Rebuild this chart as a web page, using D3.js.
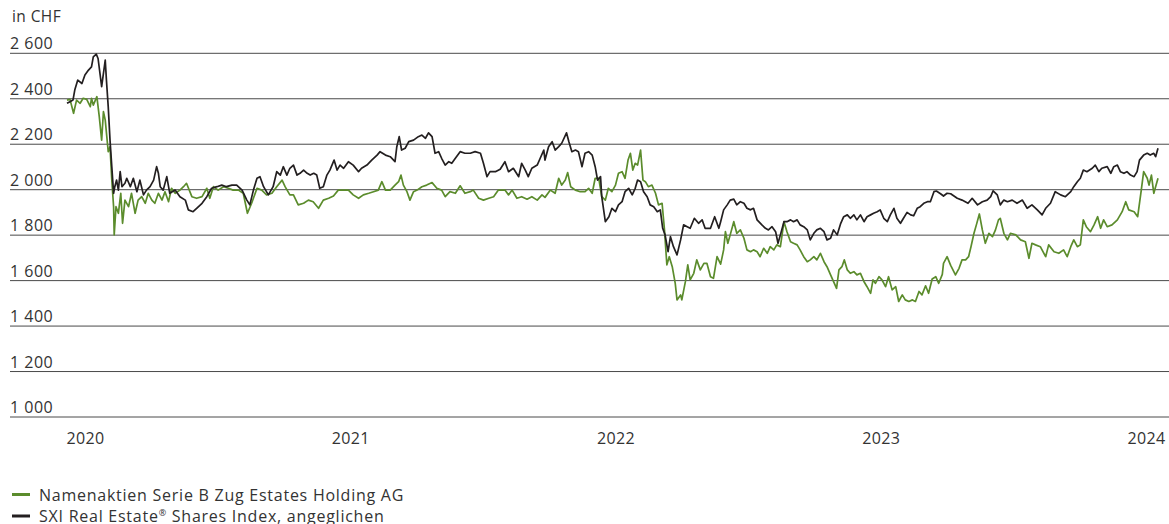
<!DOCTYPE html>
<html><head><meta charset="utf-8">
<script src="https://cdn.jsdelivr.net/npm/d3@7"></script>
<style>
body{margin:0;background:#fff}
svg{display:block}
text{font-family:"Open Sans",sans-serif;fill:#333}
</style>
</head><body>
<svg id="chart" width="1169" height="524"></svg>
<script>
// ---- data ----
const unitLabel = "in CHF";
const yearLabels = ["2020", "2021", "2022", "2023", "2024"];
const yTickValues = [1000, 1200, 1400, 1600, 1800, 2000, 2200, 2400, 2600];
const yTickLabels = ["1 000", "1 200", "1 400", "1 600", "1 800", "2 000", "2 200", "2 400", "2 600"];
const seriesNames = ["Namenaktien Serie B Zug Estates Holding AG", "SXI Real Estate", " Shares Index, angeglichen"];
const periodStart = "2020-01-01";
const periodEnd = "2024-12-31";
// [days since periodStart, value in CHF]
const zugSeries = [[0,2392],[5,2395],[11,2334],[16,2392],[22,2378],[27,2400],[33,2395],[39,2363],[41,2400],[44,2370],[50,2407],[54,2319],[58,2216],[61,2341],[64,2304],[69,2165],[72,2187],[75,2040],[78,1923],[79,1799],[82,1923],[86,1894],[90,1982],[93,1850],[97,1952],[103,1923],[108,1982],[114,1894],[119,1952],[125,1967],[131,1938],[136,1982],[142,1952],[147,1938],[153,1982],[159,1952],[164,1989],[170,1945],[175,2004],[181,1982],[189,1996],[195,2011],[200,2026],[209,1967],[217,1960],[226,1967],[234,2004],[239,1960],[245,2011],[253,1996],[262,2011],[270,2004],[278,1996],[287,1996],[295,1982],[302,1894],[309,1938],[318,2004],[326,1996],[334,1975],[343,1982],[351,2011],[360,2040],[365,2011],[373,1975],[379,1975],[387,1931],[396,1938],[404,1952],[412,1945],[421,1916],[429,1952],[438,1960],[446,1970],[454,1996],[463,1996],[471,1996],[479,1975],[488,1960],[496,1975],[505,1982],[513,1989],[521,1996],[527,2033],[533,1996],[541,1996],[549,2018],[555,2033],[559,2062],[563,2018],[569,1989],[574,1952],[580,1989],[586,1996],[594,2011],[602,2018],[611,2029],[619,2004],[627,1996],[633,1967],[641,1989],[650,1982],[658,2015],[666,1982],[675,1989],[680,1996],[689,1960],[697,1952],[706,1960],[714,1967],[722,1996],[733,1996],[739,1975],[745,1996],[753,1960],[761,1967],[770,1956],[778,1967],[787,1952],[795,1975],[800,1964],[809,1996],[817,1982],[823,2048],[828,2018],[834,2040],[838,2073],[843,2011],[851,1996],[859,1989],[867,1989],[873,2004],[879,1982],[884,2048],[890,2048],[895,1967],[901,1952],[906,2004],[912,1989],[918,2018],[923,2070],[929,2077],[934,2048],[939,2128],[943,2158],[947,2084],[951,2114],[955,2106],[960,2172],[964,2040],[968,2033],[973,2011],[979,2018],[985,1982],[990,1931],[996,1938],[1000,1821],[1004,1667],[1008,1703],[1013,1659],[1018,1586],[1021,1513],[1027,1535],[1029,1513],[1035,1593],[1039,1667],[1043,1601],[1049,1630],[1054,1689],[1060,1645],[1066,1674],[1071,1674],[1077,1615],[1082,1608],[1088,1703],[1094,1670],[1099,1733],[1102,1813],[1106,1762],[1110,1799],[1116,1857],[1121,1806],[1127,1821],[1133,1784],[1138,1733],[1144,1725],[1149,1733],[1155,1725],[1160,1703],[1166,1740],[1172,1718],[1177,1747],[1183,1733],[1188,1755],[1194,1747],[1200,1857],[1205,1813],[1211,1769],[1216,1762],[1222,1755],[1227,1733],[1233,1703],[1239,1681],[1244,1689],[1250,1703],[1255,1689],[1261,1718],[1267,1681],[1272,1659],[1278,1623],[1283,1593],[1288,1564],[1292,1645],[1297,1659],[1301,1689],[1306,1645],[1311,1630],[1317,1637],[1322,1623],[1328,1630],[1334,1593],[1339,1571],[1345,1542],[1349,1601],[1353,1586],[1359,1615],[1364,1601],[1370,1571],[1375,1615],[1381,1557],[1387,1571],[1392,1506],[1398,1535],[1403,1513],[1409,1506],[1415,1513],[1420,1506],[1426,1550],[1431,1535],[1437,1575],[1442,1542],[1448,1605],[1454,1615],[1459,1586],[1465,1625],[1467,1674],[1473,1703],[1479,1665],[1487,1623],[1493,1652],[1498,1689],[1504,1689],[1509,1703],[1513,1747],[1518,1806],[1522,1843],[1527,1891],[1532,1821],[1537,1762],[1543,1806],[1549,1791],[1554,1821],[1559,1865],[1562,1872],[1568,1806],[1574,1777],[1579,1806],[1588,1799],[1596,1777],[1604,1769],[1610,1696],[1615,1762],[1621,1755],[1629,1747],[1638,1703],[1643,1755],[1652,1725],[1660,1718],[1668,1733],[1674,1703],[1680,1747],[1685,1777],[1691,1747],[1696,1755],[1701,1865],[1706,1835],[1713,1813],[1719,1843],[1725,1879],[1730,1828],[1735,1865],[1741,1835],[1749,1843],[1758,1865],[1766,1901],[1772,1945],[1777,1909],[1786,1901],[1792,1879],[1798,1996],[1802,2077],[1808,2048],[1811,2018],[1815,2062],[1819,1982],[1822,2011],[1826,2048]];
const sxiSeries = [[0,2378],[5,2385],[10,2392],[13,2436],[18,2480],[25,2465],[30,2502],[36,2524],[41,2538],[44,2582],[49,2594],[52,2575],[58,2451],[64,2568],[66,2480],[69,2363],[72,2216],[75,2099],[78,1982],[80,2011],[83,2040],[86,1996],[89,2077],[92,2011],[97,2026],[100,2048],[106,2011],[111,2048],[117,1989],[122,2040],[128,1975],[133,1996],[139,2011],[145,2040],[150,2099],[153,2070],[156,2011],[161,1996],[167,2055],[172,1982],[181,1996],[189,1967],[198,1952],[203,1909],[211,1901],[217,1916],[226,1938],[234,1967],[242,2004],[251,2011],[259,2018],[267,2011],[276,2018],[284,2018],[293,1996],[301,1952],[306,1931],[312,1996],[318,2048],[323,2055],[329,2011],[337,1975],[345,2011],[351,2077],[357,2062],[362,2099],[368,2062],[373,2092],[379,2106],[385,2062],[390,2070],[396,2084],[402,2070],[407,2062],[413,2070],[418,2062],[423,2004],[429,2011],[435,2062],[440,2084],[447,2128],[452,2084],[457,2106],[463,2092],[471,2121],[479,2106],[488,2077],[493,2092],[502,2106],[510,2128],[519,2150],[524,2165],[533,2150],[541,2143],[549,2121],[552,2187],[556,2231],[560,2172],[566,2180],[572,2209],[580,2216],[588,2231],[594,2238],[600,2224],[605,2248],[611,2231],[616,2158],[622,2165],[627,2136],[633,2106],[639,2121],[644,2114],[650,2136],[658,2165],[666,2158],[675,2158],[683,2165],[692,2158],[697,2114],[703,2055],[708,2077],[717,2077],[725,2088],[733,2121],[739,2077],[747,2092],[756,2055],[761,2114],[767,2084],[772,2055],[778,2092],[787,2106],[792,2136],[798,2172],[800,2128],[806,2187],[812,2209],[817,2172],[823,2187],[828,2202],[836,2248],[840,2209],[845,2165],[851,2172],[856,2165],[862,2099],[867,2158],[873,2165],[879,2150],[884,2099],[888,2040],[893,2055],[895,1967],[901,1857],[907,1879],[912,1916],[918,1901],[923,1931],[929,1945],[934,1989],[940,2004],[946,1975],[951,2004],[955,2040],[960,2033],[965,1989],[971,1967],[976,1931],[982,1923],[988,1901],[993,1909],[997,1828],[1001,1799],[1006,1725],[1010,1791],[1015,1747],[1021,1711],[1027,1777],[1032,1843],[1038,1835],[1043,1828],[1050,1872],[1057,1850],[1063,1865],[1068,1828],[1077,1828],[1084,1879],[1091,1828],[1094,1857],[1099,1909],[1105,1931],[1110,1952],[1116,1956],[1121,1931],[1127,1945],[1133,1938],[1138,1916],[1144,1909],[1149,1916],[1155,1865],[1163,1843],[1169,1828],[1174,1821],[1180,1835],[1186,1813],[1190,1762],[1194,1799],[1200,1857],[1205,1857],[1211,1865],[1216,1857],[1222,1865],[1227,1843],[1233,1835],[1239,1821],[1244,1777],[1250,1806],[1255,1821],[1261,1828],[1267,1813],[1272,1777],[1278,1784],[1283,1821],[1289,1799],[1295,1850],[1300,1879],[1306,1887],[1311,1872],[1317,1887],[1322,1865],[1328,1887],[1334,1857],[1339,1879],[1345,1887],[1350,1894],[1356,1901],[1361,1909],[1367,1872],[1373,1857],[1378,1887],[1384,1916],[1389,1872],[1395,1850],[1400,1872],[1406,1898],[1412,1887],[1417,1883],[1423,1916],[1428,1923],[1434,1938],[1440,1945],[1445,1945],[1451,1989],[1455,1992],[1462,1980],[1467,1970],[1473,1982],[1479,1980],[1490,1960],[1498,1952],[1508,1938],[1515,1960],[1524,1931],[1532,1945],[1540,1952],[1546,1967],[1550,1993],[1557,1975],[1562,1931],[1568,1952],[1574,1945],[1582,1952],[1590,1938],[1599,1952],[1607,1916],[1615,1931],[1624,1909],[1632,1887],[1638,1916],[1646,1938],[1654,1989],[1663,1975],[1671,1967],[1680,1989],[1685,2011],[1691,2033],[1696,2048],[1701,2084],[1707,2077],[1716,2092],[1721,2106],[1727,2077],[1732,2092],[1741,2099],[1747,2070],[1752,2099],[1758,2106],[1763,2077],[1769,2070],[1774,2077],[1780,2062],[1786,2055],[1791,2077],[1795,2128],[1802,2150],[1808,2158],[1813,2150],[1819,2158],[1822,2143],[1826,2180]];
const seriesColors = ["#5b8c2c", "#231f20"];

// ---- chart ----
const svg = d3.select("#chart");
const W = 1169, H = 524;
const FONT = "'Open Sans',sans-serif";
const parse = d3.utcParse("%Y-%m-%d");
const t0 = parse(periodStart), t1 = parse(periodEnd);
const toDate = d => d3.utcDay.offset(t0, d);

const x = d3.scaleUtc().domain([t0, t1]).range([67, 1158]);
const y = d3.scaleLinear().domain([1000, 2600]).range([416.5, 52.8]);
const xYears = d3.scalePoint().domain(yearLabels).range([85, 1146]);

// grid + y labels
const yAxis = d3.axisLeft(y).tickValues(yTickValues)
  .tickSize(-(W - 10)).tickFormat((d, i) => yTickLabels[i]);
const gy = svg.append("g").attr("transform", "translate(10,0)").call(yAxis);
gy.select(".domain").remove();
gy.selectAll(".tick line").attr("stroke", "#4a4a4a").attr("stroke-width", 1);
gy.selectAll(".tick text").attr("x", 0).attr("dy", "-4px").attr("text-anchor", "start")
  .style("font-family", FONT).style("font-size", "16px").style("letter-spacing", "0.5px").attr("fill", "#333");

svg.append("text").attr("x", 12).attr("y", 22).text(unitLabel)
  .style("font-size", "15.5px").style("letter-spacing", "0.4px");

// x labels
const xAxis = d3.axisBottom(xYears).tickSize(0).tickPadding(0);
const gx = svg.append("g").attr("transform", "translate(0,430)").call(xAxis);
gx.select(".domain").remove();
gx.selectAll(".tick text").attr("dy", "13.5px")
  .style("font-family", FONT).style("font-size", "16px").style("letter-spacing", "0.3px").attr("fill", "#333");

// lines
const line = d3.line().x(d => x(toDate(d[0]))).y(d => y(d[1]));
[zugSeries, sxiSeries].forEach((s, i) => {
  svg.append("path").datum(s).attr("d", line).attr("fill", "none")
    .attr("stroke", seriesColors[i]).attr("stroke-width", 1.7)
    .attr("stroke-linejoin", "round");
});

// legend
const leg = svg.append("g");
[0, 1].forEach(i => {
  const yy = 494.5 + i * 21.5;
  leg.append("line").attr("x1", 12).attr("x2", 30).attr("y1", yy).attr("y2", yy)
    .attr("stroke", seriesColors[i]).attr("stroke-width", 3);
});
leg.append("text").attr("x", 39).attr("y", 500.5).style("font-size", "16px")
  .style("letter-spacing", "0.75px").text(seriesNames[0]);
const t2 = leg.append("text").attr("x", 39).attr("y", 522).style("font-size", "16px")
  .style("letter-spacing", "0.75px");
t2.append("tspan").text(seriesNames[1]);
t2.append("tspan").attr("dy", "-6").style("font-size", "9px").text("®");
t2.append("tspan").attr("dy", "6").text(seriesNames[2]);
</script>
</body></html>
